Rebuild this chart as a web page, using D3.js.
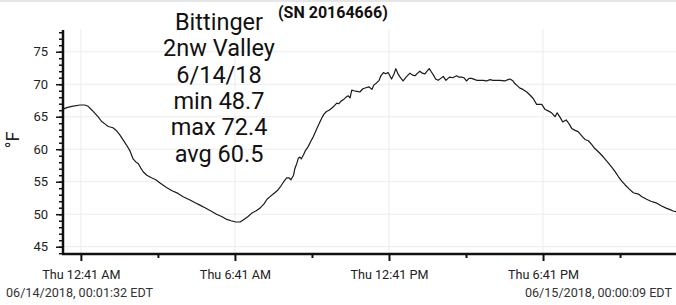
<!DOCTYPE html>
<html>
<head>
<meta charset="utf-8">
<style>
  body { margin: 0; background: #fff; }
  svg { display: block; font-family: Roboto, "Noto Sans", sans-serif; }
</style>
<script src="https://cdn.jsdelivr.net/npm/d3@7"></script>
</head>
<body>
<div id="chart"></div>
<script>
// minutes after midnight 6/14/2018 and temperature (°F)
const minutes = [1.5, 8, 20, 39, 50, 58, 67, 74, 81, 89, 97, 105, 116, 125, 132, 140, 148, 156, 163, 170,
  175, 181, 187, 195, 206, 216, 226, 241, 254, 268, 280, 296, 307, 319, 331, 345, 358, 371, 382, 392,
  403, 413, 422, 431, 441, 450, 459, 469, 476, 483, 492, 501, 508, 515, 522, 527, 532, 538, 541, 546,
  549, 553, 556, 561, 565, 572, 579, 584, 590, 596, 604, 609, 615, 621, 627, 632, 639, 644, 649, 654,
  662, 666, 670, 674, 679, 686, 693, 700, 709, 714, 721, 726, 732, 738, 742, 748, 753, 759, 767, 773,
  777, 782, 787, 794, 801, 810, 816, 822, 828, 833, 839, 845, 850, 855, 859, 865, 870, 876, 882, 888,
  894, 899, 903, 910, 919, 924, 931, 936, 942, 948, 954, 962, 967, 974, 981, 989, 997, 1004, 1013, 1020,
  1032, 1039, 1044, 1051, 1055, 1062, 1067, 1074, 1083, 1091, 1098, 1106, 1112, 1118, 1126, 1133, 1141, 1149, 1154, 1161,
  1167, 1175, 1182, 1188, 1196, 1203, 1211, 1219, 1227, 1235, 1242, 1252, 1262, 1272, 1281, 1289, 1297, 1305, 1313, 1322,
  1332, 1344, 1352, 1363, 1373, 1387, 1397, 1410, 1418, 1425, 1440];
const temps = [66.2, 66.4, 66.6, 66.8, 66.8, 66.6, 66.0, 65.5, 65.0, 64.3, 63.9, 63.5, 63.3, 62.8, 62.2, 61.4, 60.6, 59.7, 58.5, 58.0,
  57.8, 57.1, 56.5, 56.0, 55.6, 55.3, 54.8, 54.1, 53.6, 53.2, 52.7, 52.2, 51.8, 51.4, 51.0, 50.5, 50.0, 49.6, 49.2, 49.0,
  48.8, 48.8, 49.2, 49.6, 50.2, 50.5, 50.9, 51.6, 52.3, 52.7, 53.2, 53.7, 54.3, 55.0, 55.6, 55.6, 55.3, 56.0, 57.0, 57.9,
  58.6, 58.8, 58.5, 59.1, 59.7, 60.4, 61.3, 61.9, 62.8, 63.7, 64.8, 65.4, 65.8, 66.0, 66.3, 66.6, 67.1, 67.0, 67.4, 67.6,
  68.1, 68.2, 67.9, 69.1, 69.0, 68.9, 68.8, 69.3, 69.5, 69.6, 69.2, 69.9, 70.2, 70.6, 71.3, 71.8, 71.6, 71.8, 70.8, 71.6,
  72.4, 71.6, 71.1, 70.5, 71.1, 71.7, 71.4, 71.3, 71.7, 72.0, 71.7, 71.6, 72.0, 72.4, 72.0, 71.4, 70.8, 70.6, 70.9, 71.2,
  70.6, 70.9, 71.1, 71.0, 71.3, 71.1, 71.1, 71.0, 70.5, 70.9, 70.9, 70.7, 70.6, 70.6, 70.6, 70.5, 70.7, 70.6, 70.6, 70.6,
  70.5, 70.7, 70.8, 70.5, 70.1, 69.7, 69.4, 69.2, 68.8, 68.3, 67.8, 66.9, 66.9, 66.9, 66.1, 65.9, 65.6, 65.0, 65.6, 64.9,
  64.2, 64.5, 63.9, 63.2, 62.9, 62.7, 62.1, 61.5, 61.3, 60.7, 60.1, 59.5, 58.8, 58.0, 57.3, 56.6, 55.8, 55.1, 54.5, 53.9,
  53.3, 53.1, 52.7, 52.3, 52.0, 51.7, 51.3, 50.9, 50.7, 50.5, 50.3];

const yTicks = [45, 50, 55, 60, 65, 70, 75];
const xTickMinutes = [41, 401, 761, 1121];
const xTickLabels = ['Thu 12:41 AM', 'Thu 6:41 AM', 'Thu 12:41 PM', 'Thu 6:41 PM'];
const xMinorMinutes = [221, 581, 941, 1301];
const infoLines = ['Bittinger', '2nw Valley', '6/14/18 ', 'min 48.7', 'max 72.4', 'avg 60.5'];
const serial = '(SN 20164666)';
const startLabel = '06/14/2018, 00:01:32 EDT';
const endLabel = '06/15/2018, 00:00:09 EDT';

const [W, H] = [676, 305];
const base = new Date(2018, 5, 14, 0, 0, 0);
const toDate = m => new Date(base.getTime() + m * 60000);

const x = d3.scaleTime()
  .domain([toDate(1.53), toDate(1440.15)])
  .range([64, 679.6]);
const y = d3.scaleLinear()
  .domain([43.88, 78.34])
  .range([254, 30]);

const svg = d3.select('#chart').append('svg')
  .attr('width', W)
  .attr('height', H);

svg.append('rect').attr('x', 0).attr('y', 0).attr('width', W).attr('height', 2).attr('fill', '#e6e6e6');

// grid
svg.append('g').selectAll('line').data(yTicks).enter().append('line')
  .attr('x1', 63).attr('x2', W)
  .attr('y1', d => y(d)).attr('y2', d => y(d))
  .attr('stroke', '#ececec').attr('stroke-width', 1);
svg.append('g').selectAll('line').data(xTickMinutes).enter().append('line')
  .attr('x1', d => x(toDate(d))).attr('x2', d => x(toDate(d)))
  .attr('y1', 29).attr('y2', 254)
  .attr('stroke', '#ececec').attr('stroke-width', 1);

// data line
svg.append('clipPath').attr('id', 'clip').append('rect')
  .attr('x', 63).attr('y', 0).attr('width', W - 63).attr('height', 254);
const line = d3.line()
  .x((d, i) => x(toDate(minutes[i])))
  .y(d => y(d));
svg.append('path')
  .datum(temps)
  .attr('clip-path', 'url(#clip)')
  .attr('d', line)
  .attr('fill', 'none')
  .attr('stroke', '#1a1a1a')
  .attr('stroke-width', 1.2)
  .attr('stroke-linejoin', 'round');

// y axis
const yMinor = d3.range(44, 79, 1);
const yAxisMinor = d3.axisLeft(y).tickValues(yMinor).tickSize(4).tickFormat('');
svg.append('g').attr('transform', 'translate(63,0)').call(yAxisMinor)
  .call(g => g.select('.domain').remove())
  .selectAll('line').attr('stroke', '#111').attr('stroke-width', 1.5);
const yAxis = d3.axisLeft(y).tickValues(yTicks).tickSize(7).tickPadding(8);
svg.append('g').attr('transform', 'translate(63,0)').call(yAxis)
  .call(g => g.select('.domain').attr('d', 'M0,30V254').attr('stroke', '#111').attr('stroke-width', 2.5))
  .call(g => g.selectAll('.tick line').attr('stroke', '#111').attr('stroke-width', 1.5))
  .call(g => g.selectAll('.tick text').attr('font-family', 'Roboto, sans-serif').attr('font-size', 13).attr('fill', '#222'));

// x axis
const xAxisMinor = d3.axisBottom(x).tickValues(xMinorMinutes.map(toDate)).tickSize(4).tickFormat('');
svg.append('g').attr('transform', 'translate(0,254)').call(xAxisMinor)
  .call(g => g.select('.domain').remove())
  .selectAll('line').attr('stroke', '#111').attr('stroke-width', 2);
const xAxis = d3.axisBottom(x).tickValues(xTickMinutes.map(toDate)).tickSize(7).tickPadding(9)
  .tickFormat((d, i) => xTickLabels[i]);
svg.append('g').attr('transform', 'translate(0,254)').call(xAxis)
  .call(g => g.select('.domain').attr('d', `M62,0H${W}`).attr('stroke', '#111').attr('stroke-width', 2.5))
  .call(g => g.selectAll('.tick line').attr('stroke', '#111').attr('stroke-width', 2))
  .call(g => g.selectAll('.tick text').attr('font-family', 'Roboto, sans-serif').attr('font-size', 12.6).attr('fill', '#222'));

// y label
svg.append('text')
  .attr('transform', 'translate(19,140) rotate(-90)')
  .attr('text-anchor', 'middle')
  .attr('font-size', 18)
  .attr('fill', '#222')
  .text('°F');

// info block
svg.append('g').selectAll('text').data(infoLines).enter().append('text')
  .attr('x', 219)
  .attr('y', (d, i) => 30 + i * 26.3)
  .attr('text-anchor', 'middle')
  .attr('font-size', 23.5)
  .attr('fill', '#111')
  .text(d => d);

svg.append('text')
  .attr('x', 278).attr('y', 18)
  .attr('font-size', 16).attr('font-weight', 'bold').attr('fill', '#111')
  .text(serial);

svg.append('text')
  .attr('x', 6).attr('y', 297)
  .attr('font-size', 12.6).attr('fill', '#333')
  .text(startLabel);
svg.append('text')
  .attr('x', 672).attr('y', 297)
  .attr('text-anchor', 'end')
  .attr('font-size', 12.6).attr('fill', '#333')
  .text(endLabel);
</script>
</body>
</html>
